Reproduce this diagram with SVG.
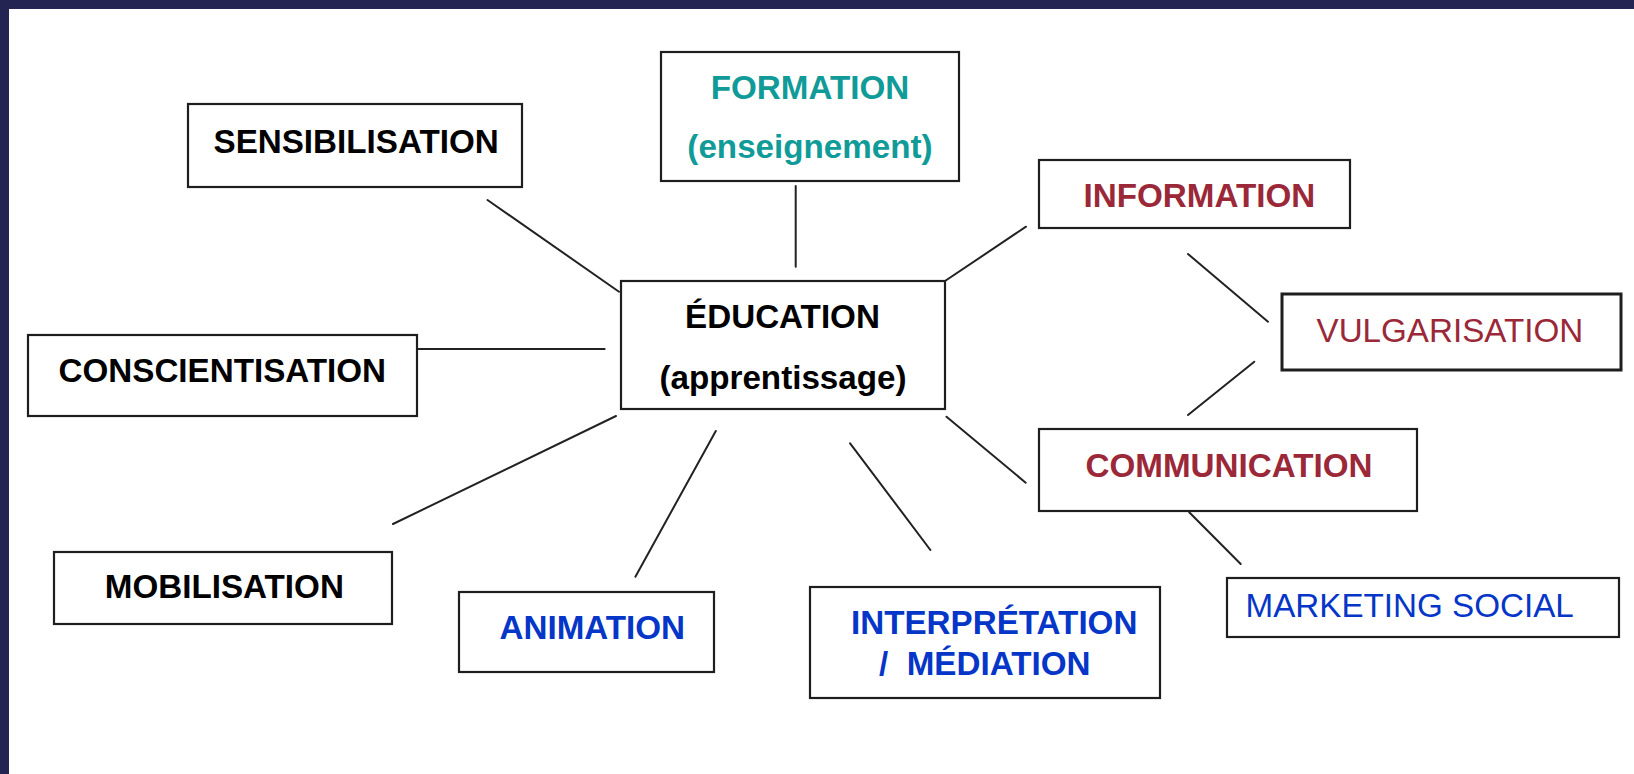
<svg xmlns="http://www.w3.org/2000/svg" width="1634" height="774" viewBox="0 0 1634 774">
<style>
.box{fill:#fff;stroke:#1e1e1e;stroke-width:2.2}
.t{font-family:"Liberation Sans",Arial,sans-serif;font-size:33.2px}
.b{font-weight:bold}
.k{fill:#000}
.teal{fill:#109b99}
.red{fill:#9b2838}
.blue{fill:#0536c8}
.conn line{stroke:#222;stroke-width:2;stroke-linecap:round}
</style>
<rect x="0" y="0" width="1634" height="774" fill="#ffffff"/>
<rect x="0" y="0" width="1634" height="9" fill="#232452"/>
<rect x="0" y="0" width="9" height="774" fill="#232452"/>
<g id="connectors" class="conn">
<line x1="487.5" y1="200" x2="619" y2="291.7"/>
<line x1="795.7" y1="186" x2="795.7" y2="266.7"/>
<line x1="945" y1="281" x2="1026" y2="226.7"/>
<line x1="1188" y1="254" x2="1268" y2="321.7"/>
<line x1="1254.3" y1="361.7" x2="1188" y2="415"/>
<line x1="417" y1="349" x2="604.6" y2="349"/>
<line x1="393" y1="524" x2="616" y2="416"/>
<line x1="715.8" y1="431" x2="635.4" y2="576.7"/>
<line x1="850.1" y1="443.3" x2="930.4" y2="550"/>
<line x1="946.5" y1="416.7" x2="1025.7" y2="482.7"/>
<line x1="1189.2" y1="512.3" x2="1240.7" y2="564"/>
</g>
<g id="sensibilisation">
<rect class="box" x="188" y="104" width="334" height="83"/>
<text class="t b k" x="213.5" y="153.3">SENSIBILISATION</text>
</g>
<g id="formation">
<rect class="box" x="661" y="52" width="298" height="129"/>
<text class="t b teal" x="810" y="99" text-anchor="middle">FORMATION</text>
<text class="t b teal" x="810" y="158" text-anchor="middle">(enseignement)</text>
</g>
<g id="education">
<rect class="box" x="621" y="281" width="324" height="128"/>
<text class="t b k" x="782.5" y="328" text-anchor="middle">ÉDUCATION</text>
<text class="t b k" x="783" y="389" text-anchor="middle">(apprentissage)</text>
</g>
<g id="information">
<rect class="box" x="1039" y="160" width="311" height="68"/>
<text class="t b red" x="1083.5" y="206.7">INFORMATION</text>
</g>
<g id="vulgarisation">
<rect class="box" x="1282" y="294" width="339" height="76" style="stroke-width:3"/>
<text class="t red" x="1316.5" y="342.3">VULGARISATION</text>
</g>
<g id="conscientisation">
<rect class="box" x="28" y="335" width="389" height="81"/>
<text class="t b k" x="58.5" y="381.7">CONSCIENTISATION</text>
</g>
<g id="communication">
<rect class="box" x="1039" y="429" width="378" height="82"/>
<text class="t b red" x="1085.5" y="477.3">COMMUNICATION</text>
</g>
<g id="mobilisation">
<rect class="box" x="54" y="552" width="338" height="72"/>
<text class="t b k" x="104.8" y="598.3">MOBILISATION</text>
</g>
<g id="animation">
<rect class="box" x="459" y="592" width="255" height="80"/>
<text class="t b blue" x="499.5" y="639.3">ANIMATION</text>
</g>
<g id="interpretation">
<rect class="box" x="810" y="587" width="350" height="111"/>
<text class="t b blue" x="851" y="634.3">INTERPRÉTATION</text>
<text class="t b blue" x="879" y="675" style="white-space:pre">/  MÉDIATION</text>
</g>
<g id="marketing">
<rect class="box" x="1227" y="578" width="392" height="59"/>
<text class="t blue" x="1245.5" y="617.3">MARKETING SOCIAL</text>
</g>
</svg>
